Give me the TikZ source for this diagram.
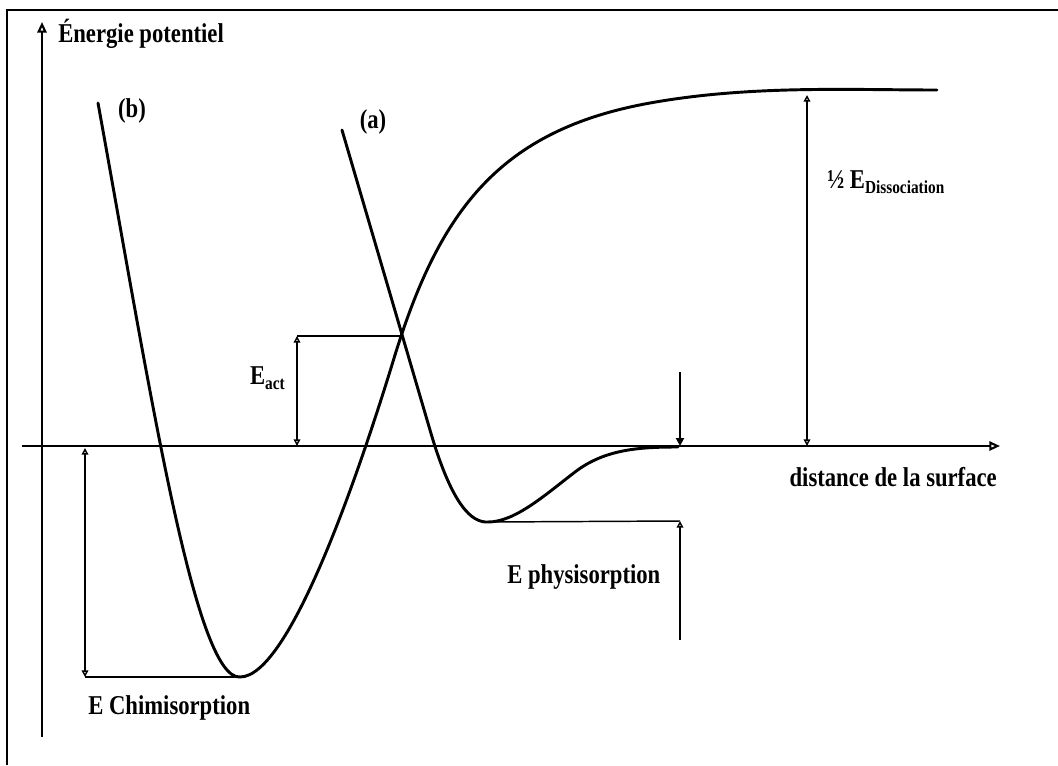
\documentclass[tikz,border=0pt]{standalone}
\usepackage{fontspec}
\setmainfont{Liberation Serif}
\usetikzlibrary{arrows.meta}
\tikzset{
  courbe/.style={line width=2.2pt, line join=round, line cap=round},
  axe/.style={line width=1.6pt, -{Triangle[open,length=8pt,width=7pt]}},
  cote/.style={line width=1.1pt},
  pointe/.style={-{Triangle[open,length=5pt,width=5pt]}},
  fleche/.style={{Triangle[open,length=5pt,width=5pt]}-{Triangle[open,length=5pt,width=5pt]}},
  lbl/.style={font=\bfseries\fontsize{17}{20}\selectfont, inner sep=0pt, yscale=1.2},
}
\newcommand{\indice}[1]{\raisebox{-0.45ex}{\fontsize{11.5}{12}\selectfont #1}}
\begin{document}
\begin{tikzpicture}[x=0.75pt,y=-0.75pt]
  \useasboundingbox (0,0) rectangle (1058,765);
  % cadre
  \draw[line width=1.5pt] (7,765) -- (7,10) -- (1058,10);
  % axes
  \coordinate (ybas) at (42,737);
  \coordinate (yhaut) at (42,22);
  \coordinate (xgauche) at (22,446);
  \coordinate (xdroite) at (1000,446);
  \draw[axe] (ybas) -- (yhaut);
  \draw[axe] (xgauche) -- (xdroite);
  % courbe (b) : chimisorption
  \coordinate (b0) at (98,103);
  \coordinate (bmin) at (240,677);
  \coordinate (binf) at (395,355);
  \coordinate (bcoude) at (650,103);
  \coordinate (bfin) at (937,90);
  \draw[courbe] (b0) .. controls (150,390) and (195,680) .. (bmin)
    .. controls (290,677) and (360,470) .. (binf)
    .. controls (440,210) and (500,130) .. (bcoude)
    .. controls (750,85) and (850,90) .. (bfin);
  % courbe (a) : physisorption
  \coordinate (a0) at (342,130);
  \coordinate (adroit) at (430,430);
  \coordinate (amin) at (488,522);
  \coordinate (amont) at (575,472);
  \coordinate (afin) at (678,447);
  \draw[courbe] (a0) -- (adroit)
    .. controls (452,506) and (472,523) .. (amin)
    .. controls (515,522) and (545,495) .. (amont)
    .. controls (605,449) and (640,447) .. (afin);
  % energie d'activation
  \coordinate (croix) at (401,336);
  \coordinate (act-h) at (297,336);
  \coordinate (act-b) at (297,446);
  \draw[cote] (act-h) -- (croix);
  \draw[cote,fleche] (act-h) -- (act-b);
  % 1/2 dissociation
  \coordinate (diss-h) at (807,95);
  \coordinate (diss-b) at (807,446);
  \draw[cote,fleche] (diss-h) -- (diss-b);
  % physisorption
  \coordinate (phys-d) at (680,521);
  \coordinate (phys-bas) at (680,640);
  \coordinate (phys-haut) at (680,372);
  \coordinate (phys-0) at (680,446);
  \draw[cote] (amin) -- (phys-d);
  \draw[cote,pointe] (phys-bas) -- (phys-d);
  \draw[line width=1.8pt,-{Triangle[length=6pt,width=6pt]}] (phys-haut) -- (phys-0);
  % chimisorption
  \coordinate (chim-h) at (85,448);
  \coordinate (chim-b) at (85,677);
  \draw[cote] (chim-b) -- (bmin);
  \draw[cote,fleche] (chim-h) -- (chim-b);
  % textes
  \node[lbl,anchor=west] (energie) at (58,34) {Énergie potentiel};
  \node[lbl] (lb) at (132,111) {(b)};
  \node[lbl] (la) at (373,122) {(a)};
  \node[lbl,anchor=east] (eact) at (285,378) {E\indice{act}};
  \node[lbl,anchor=west] (ediss) at (827,182) {½ E\indice{Dissociation}};
  \node[lbl,anchor=west] (ephys) at (507,577) {E physisorption};
  \node[lbl,anchor=west] (echim) at (88,708) {E Chimisorption};
  \node[lbl,anchor=east] (dist) at (997,477) {distance de la surface};
\end{tikzpicture}
\end{document}
